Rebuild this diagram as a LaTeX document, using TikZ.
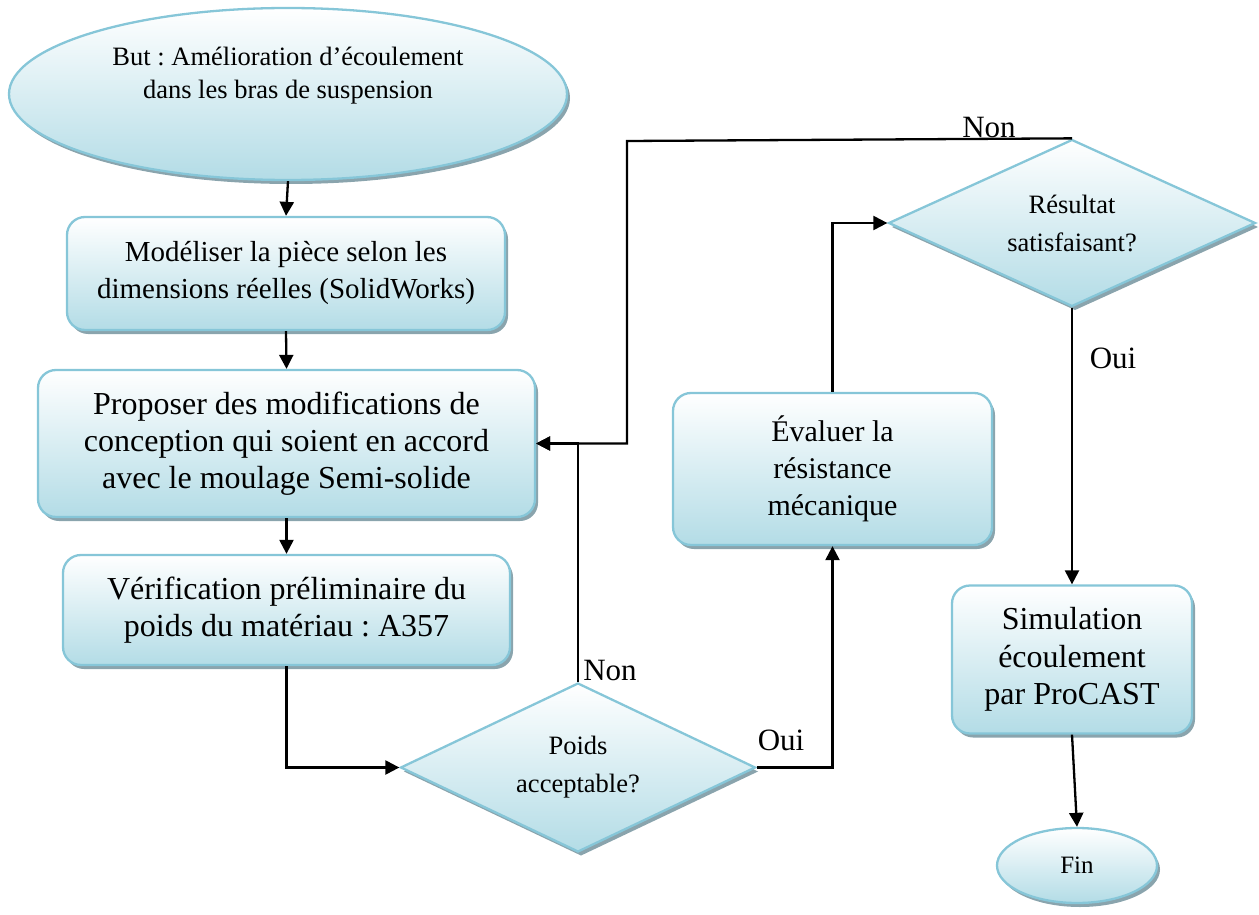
\documentclass[tikz,border=0pt]{standalone}
\usepackage{fontspec}
\setmainfont{Liberation Serif}
\usetikzlibrary{shapes.geometric,shadows,arrows.meta}
\definecolor{bordc}{HTML}{86C6D8}
\definecolor{fillc}{HTML}{B3DCE6}
\definecolor{shadc}{HTML}{8AA4AD}
\tikzset{
  shapebase/.style={draw=bordc, line width=2.3pt, top color=white, bottom color=fillc,
    drop shadow={shadow xshift=3pt, shadow yshift=-4pt, fill=shadc, opacity=1},
    align=center, inner sep=0pt},
  procbox/.style={shapebase, rectangle, rounded corners=18pt},
  decbox/.style={shapebase, diamond, shape aspect=2.1, font=\fontsize{26.5}{38}\selectfont},
  termbox/.style={shapebase, ellipse},
  arr/.style={line width=2.3pt, -{Triangle[length=14pt,width=14pt]}},
  lbl/.style={font=\fontsize{31}{36}\selectfont, inner sep=0pt}
}
\begin{document}
\frenchspacing
\begin{tikzpicture}[x=1pt,y=-1pt]
\useasboundingbox (0,0) rectangle (1259,915);
% start ellipse
\node[termbox, minimum width=558pt, minimum height=172pt] (but) at (288,94) {};
\node[align=center, font=\fontsize{26.5}{33}\selectfont] (buttxt) at (288,76) {But : Amélioration d’écoulement\\dans les bras de suspension};
% boxes
\node[procbox, minimum width=438pt, minimum height=113pt, font=\fontsize{29}{37}\selectfont] (mod) at (286,273.5) {Modéliser la pièce selon les\\dimensions réelles (SolidWorks)};
\node[procbox, minimum width=497pt, minimum height=147pt, font=\fontsize{32}{37}\selectfont] (prop) at (286.5,443.5) {Proposer des modifications de\\conception qui soient en accord\\avec le moulage Semi-solide};
\node[procbox, minimum width=447pt, minimum height=110pt, font=\fontsize{32}{37}\selectfont] (verif) at (286.5,610) {Vérification préliminaire du\\poids du matériau : A357};
\node[decbox, minimum width=355pt, minimum height=169pt] (poids) at (578,767.5) {Poids\\acceptable?};
\node[procbox, minimum width=319pt, minimum height=152pt, font=\fontsize{30}{37}\selectfont] (eval) at (832.5,469) {Évaluer la\\résistance\\mécanique};
\node[decbox, minimum width=367pt, minimum height=167pt] (res) at (1072,223) {Résultat\\satisfaisant?};
\node[procbox, minimum width=240pt, minimum height=148pt, font=\fontsize{32}{37.5}\selectfont] (sim) at (1072,659.5) {Simulation\\écoulement\\par ProCAST};
\node[termbox, minimum width=160pt, minimum height=75pt, font=\fontsize{25}{30}\selectfont] (fin) at (1077,865.5) {Fin};
% connectors
\coordinate (bend) at (627,141);
\draw[arr] (but.south) -- (mod.north);
\draw[arr] (mod.south) -- (prop.north);
\draw[arr] (prop.south) -- (verif.north);
\draw[arr] (verif.south) |- (poids.west);
\draw[arr] (poids.north) |- (prop.east);
\draw[arr] (poids.east) -| (eval.south);
\draw[arr] (eval.north) |- (res.west);
\draw[arr] (res.north) -- (bend) |- (prop.east);
\draw[arr] (res.south) -- (sim.north);
\draw[arr] (sim.south) -- (fin.north);
% labels
\node[lbl] (non1) at (610,670) {Non};
\node[lbl] (oui1) at (781,740) {Oui};
\node[lbl] (non2) at (989,128) {Non};
\node[lbl] (oui2) at (1113,358) {Oui};
\end{tikzpicture}
\end{document}
